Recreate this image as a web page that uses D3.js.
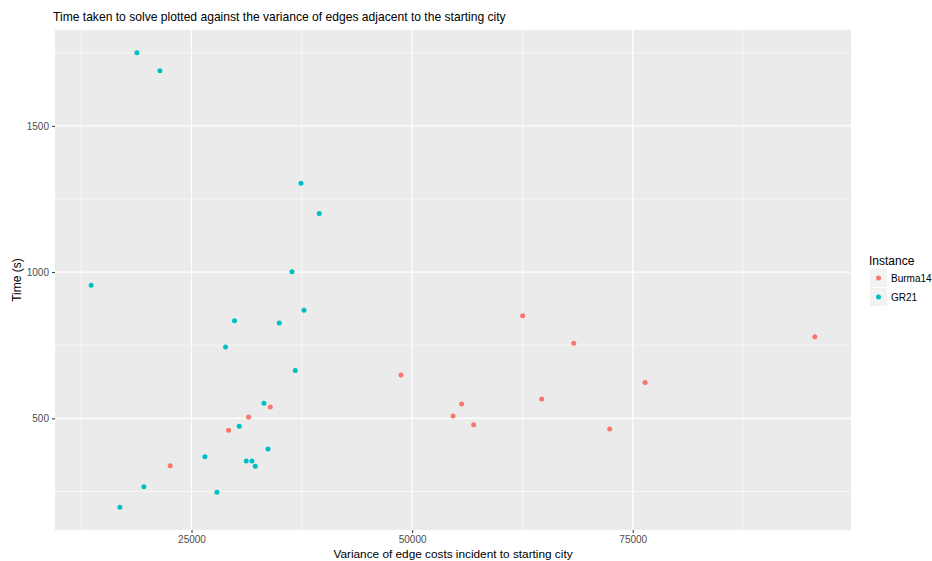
<!DOCTYPE html>
<html><head><meta charset="utf-8">
<script src="https://cdn.jsdelivr.net/npm/d3@7"></script>
<style>body{margin:0;background:#fff}svg{display:block}text{font-family:"Liberation Sans",Arial,sans-serif}</style>
</head><body>
<script>
const titleText = "Time taken to solve plotted against the variance of edges adjacent to the starting city";
const xLabel = "Variance of edge costs incident to starting city";
const yLabel = "Time (s)";
const legendTitle = "Instance";
const instances = ["Burma14", "GR21"];
const colors = ["#F8766D", "#00BFC4"];
const xTicks = [25000, 50000, 75000];
const yTicks = [500, 1000, 1500];

const burmaX = [22585, 29195, 31463, 33923, 62528, 95635, 68311, 48741, 76406, 64683, 55612, 54637, 56973, 72392];
const burmaY = [338, 459, 505, 539, 851, 779, 757, 648, 623, 566, 549, 508, 478, 464];
const grX = [18810, 21417, 37404, 39478, 36383, 13628, 37744, 29875, 34943, 28855, 36757, 33209, 30408, 33662, 26519, 31202, 31848, 32222, 27880, 19603, 16882];
const grY = [1750, 1688, 1304, 1200, 1001, 955, 870, 834, 826, 744, 664, 552, 473, 395, 369, 354, 354, 336, 247, 266, 196];

const W = 932, H = 561;
const P = {l: 55, r: 851, t: 30, b: 530};
const svg = d3.select("body").append("svg").attr("width", W).attr("height", H);

const allX = burmaX.concat(grX), allY = burmaY.concat(grY);
const xe = d3.extent(allX), ye = d3.extent(allY);
const xp = (xe[1]-xe[0])*0.05, yp = (ye[1]-ye[0])*0.05;
const x = d3.scaleLinear().domain([xe[0]-xp, xe[1]+xp]).range([P.l, P.r]);
const y = d3.scaleLinear().domain([ye[0]-yp, ye[1]+yp]).range([P.b, P.t]);

svg.append("rect").attr("x", P.l).attr("y", P.t).attr("width", P.r-P.l).attr("height", P.b-P.t).attr("fill", "#EBEBEB");

const xMinor = [12500, 37500, 62500, 87500];
const yMinor = [250, 750, 1250, 1750];
const g = svg.append("g");
g.selectAll(".xmn").data(xMinor).join("line").attr("x1", d=>x(d)).attr("x2", d=>x(d)).attr("y1", P.t).attr("y2", P.b).attr("stroke", "#fff").attr("stroke-width", 0.6);
g.selectAll(".ymn").data(yMinor).join("line").attr("y1", d=>y(d)).attr("y2", d=>y(d)).attr("x1", P.l).attr("x2", P.r).attr("stroke", "#fff").attr("stroke-width", 0.6);
g.selectAll(".xmj").data(xTicks).join("line").attr("x1", d=>x(d)).attr("x2", d=>x(d)).attr("y1", P.t).attr("y2", P.b).attr("stroke", "#fff").attr("stroke-width", 1.2);
g.selectAll(".ymj").data(yTicks).join("line").attr("y1", d=>y(d)).attr("y2", d=>y(d)).attr("x1", P.l).attr("x2", P.r).attr("stroke", "#fff").attr("stroke-width", 1.2);

const xAxis = svg.append("g").attr("transform", `translate(0,${P.b})`)
  .call(d3.axisBottom(x).tickValues(xTicks).tickSize(3).tickPadding(3).tickFormat(d3.format("d")));
const yAxis = svg.append("g").attr("transform", `translate(${P.l},0)`)
  .call(d3.axisLeft(y).tickValues(yTicks).tickSize(3).tickPadding(3).tickFormat(d3.format("d")));
[xAxis, yAxis].forEach(a => {
  a.select(".domain").remove();
  a.selectAll(".tick line").attr("stroke", "#333").attr("stroke-width", 1);
  a.selectAll(".tick text").attr("fill", "#4D4D4D").style("font-size", "10px").style("font-family", '"Liberation Sans",Arial,sans-serif');
});

const pts = burmaX.map((v,i)=>({x:v, y:burmaY[i], k:0})).concat(grX.map((v,i)=>({x:v, y:grY[i], k:1})));
svg.append("g").selectAll("circle").data(pts).join("circle")
  .attr("cx", d=>x(d.x)).attr("cy", d=>y(d.y)).attr("r", 2.5).attr("fill", d=>colors[d.k]);

svg.append("text").attr("x", 53).attr("y", 21).attr("fill", "#000").style("font-size", "12.1px").text(titleText);
svg.append("text").attr("x", (P.l+P.r)/2).attr("y", 558).attr("text-anchor", "middle").attr("fill", "#000").style("font-size", "11.8px").text(xLabel);
svg.append("text").attr("transform", `translate(21,${(P.t+P.b)/2}) rotate(-90)`).attr("text-anchor", "middle").attr("fill", "#000").style("font-size", "12px").text(yLabel);

const lg = svg.append("g").attr("transform", "translate(869,0)");
lg.append("text").attr("x", 0).attr("y", 265).style("font-size", "12px").attr("fill", "#000").text(legendTitle);
instances.forEach((name, i) => {
  const y0 = 269 + i*19;
  lg.append("rect").attr("x", 1).attr("y", y0).attr("width", 17).attr("height", 18).attr("fill", "#F2F2F2");
  lg.append("circle").attr("cx", 9.5).attr("cy", y0+9).attr("r", 2.5).attr("fill", colors[i]);
  lg.append("text").attr("x", 22).attr("y", y0+13).style("font-size", "10px").attr("fill", "#000").text(name);
});
</script>
</body></html>
